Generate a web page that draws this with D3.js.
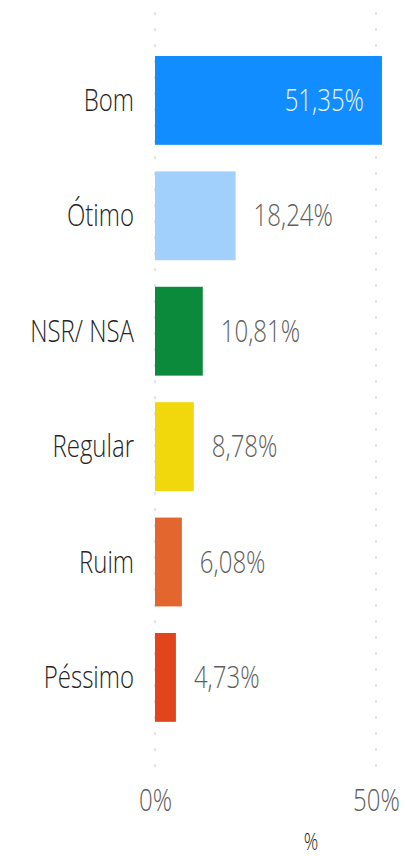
<!DOCTYPE html>
<html>
<head>
<meta charset="utf-8">
<script src="https://cdn.jsdelivr.net/npm/d3@7"></script>
<style>
  html, body { margin: 0; padding: 0; background: #ffffff; }
  svg { display: block; }
  text { font-family: "Open Sans", "Noto Sans", sans-serif; font-weight: 300; }
</style>
</head>
<body>
<svg id="chart" width="405" height="856"></svg>
<script>
// Avaliação — share of answers per category (percent)
const categories = ["Bom", "Ótimo", "NSR/ NSA", "Regular", "Ruim", "Péssimo"];
const values = [51.35, 18.24, 10.81, 8.78, 6.08, 4.73];
const barColors = ["#118DFF", "#A0D0FB", "#0B8A3C", "#F0D80C", "#E2662E", "#E2441B"];
const tickValues = [0, 50];
const axisTitle = "%";

const W = 405, H = 856;
const stretchY = 1.27; // glyphs are drawn taller than wide

const svg = d3.select("#chart");
const ptBR = d3.formatLocale({ decimal: ",", thousands: ".", grouping: [3], currency: ["R$", ""] });
const fmtValue = v => ptBR.format(".2f")(v) + "%";

const x = d3.scaleLinear().domain([0, 50]).range([155, 376]);
const y = d3.scaleBand().domain(categories).range([42.7, 735.1])
  .paddingInner(0.23).paddingOuter(0.115);

// dotted vertical gridlines
svg.append("g").selectAll("line")
  .data(tickValues)
  .join("line")
  .attr("x1", d => x(d)).attr("x2", d => x(d))
  .attr("y1", 12).attr("y2", 774)
  .attr("stroke", "#dcdcdc")
  .attr("stroke-width", 1.5)
  .attr("stroke-dasharray", "3,13");

// bars
svg.append("g").selectAll("rect")
  .data(values)
  .join("rect")
  .attr("x", x(0))
  .attr("y", (d, i) => y(categories[i]))
  .attr("width", d => x(d) - x(0))
  .attr("height", y.bandwidth())
  .attr("fill", (d, i) => barColors[i]);

function stretchedText(sel, px, py) {
  return sel.attr("transform", `translate(${px},${py}) scale(1,${stretchY})`)
    .attr("dy", "0.35em");
}

// category labels
svg.append("g").selectAll("text")
  .data(categories)
  .join("text")
  .each(function (d) {
    stretchedText(d3.select(this), 134, y(d) + y.bandwidth() / 2);
  })
  .attr("text-anchor", "end")
  .attr("font-size", 24)
  .attr("fill", "#252423")
  .text(d => d);

// value labels: inside the long bar, outside the short ones
svg.append("g").selectAll("text")
  .data(values)
  .join("text")
  .each(function (d, i) {
    const inside = x(d) - x(0) > 120;
    const cy = y(categories[i]) + y.bandwidth() / 2;
    const t = d3.select(this);
    if (inside) {
      stretchedText(t, x(d) - 18, cy).attr("text-anchor", "end").attr("fill", "#EAF4FF");
    } else {
      stretchedText(t, x(d) + 18, cy).attr("text-anchor", "start").attr("fill", "#605E5C");
    }
  })
  .attr("font-size", 24)
  .text(d => fmtValue(d));

// x axis tick labels
const axisG = svg.append("g")
  .attr("transform", "translate(0,800)")
  .call(d3.axisBottom(x).tickValues(tickValues).tickFormat(d => d + "%").tickSize(0));
axisG.select(".domain").remove();
axisG.selectAll("text")
  .attr("y", 0)
  .attr("dy", "0.35em")
  .attr("transform", `scale(1,${stretchY})`)
  .attr("font-size", 24)
  .attr("font-family", "\"Open Sans\", \"Noto Sans\", sans-serif")
  .attr("font-weight", 300)
  .attr("fill", "#605E5C");

// axis title
svg.append("text")
  .call(stretchedText, 311, 842)
  .attr("text-anchor", "middle")
  .attr("font-size", 18)
  .attr("fill", "#252423")
  .text(axisTitle);
</script>
</body>
</html>
